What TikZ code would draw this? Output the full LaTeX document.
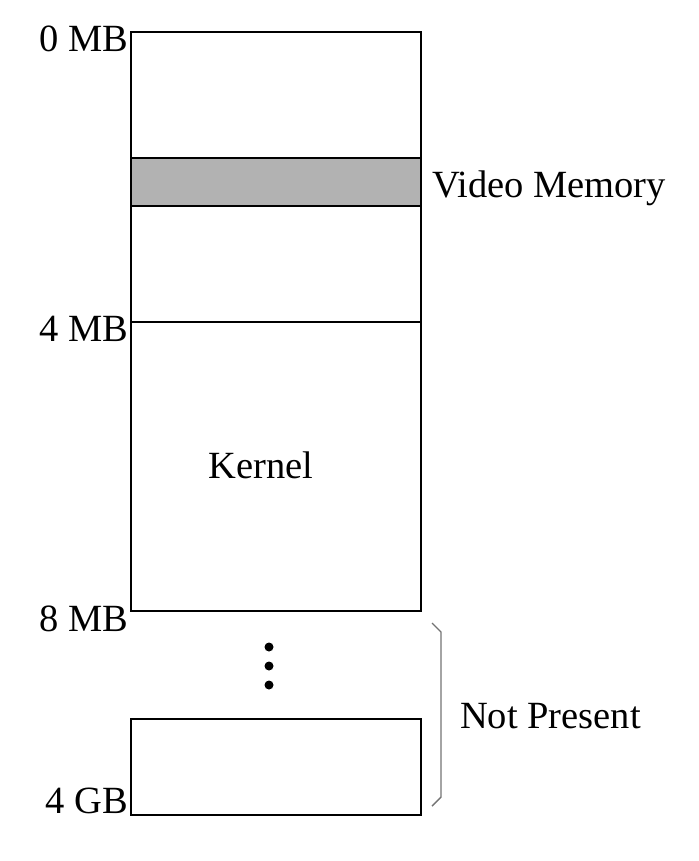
\documentclass[tikz,border=0pt]{standalone}
\usepackage{fontspec}
\setmainfont{Liberation Serif}
\begin{document}
\begin{tikzpicture}[x=1pt,y=-1pt,
  box/.style={draw=black, line width=2.2pt, inner sep=0pt, outer sep=0pt, minimum width=290pt},
  lbl/.style={inner sep=0pt, outer sep=0pt, font=\fontsize{38.5}{40}\selectfont},
  dot/.style={circle, fill=black, inner sep=0pt, minimum size=9pt}]
\useasboundingbox (0,0) rectangle (698,861);
% main region
\node[box, minimum height=579pt] (mem) at (276,321.5) {};
\node[box, fill=black!30, minimum height=48pt] (video) at (276,182) {};
\coordinate (divL) at (131,322);
\coordinate (divR) at (421,322);
\draw[line width=2pt] (divL) -- (divR);
\node[lbl] (kernel) at (261,465) {Kernel};
% top box
\node[box, minimum height=96pt] (top) at (276,767) {};
% dots
\node[dot] (d1) at (269,647) {};
\node[dot] (d2) at (269,666) {};
\node[dot] (d3) at (269,685) {};
% labels
\node[lbl, anchor=base east] (l0) at (128,52) {0 MB};
\node[lbl, anchor=base east] (l4) at (128,341) {4 MB};
\node[lbl, anchor=base east] (l8) at (128,631) {8 MB};
\node[lbl, anchor=base east] (lg) at (128,813) {4 GB};
\node[lbl, anchor=base west] (vm) at (432,197) {Video Memory};
\node[lbl, anchor=base west] (np) at (460,728) {Not Present};
% brace
\draw[black!55, line width=1.4pt] (432,623) -- (441,632) -- (441,797) -- (432,806);
\end{tikzpicture}
\end{document}
